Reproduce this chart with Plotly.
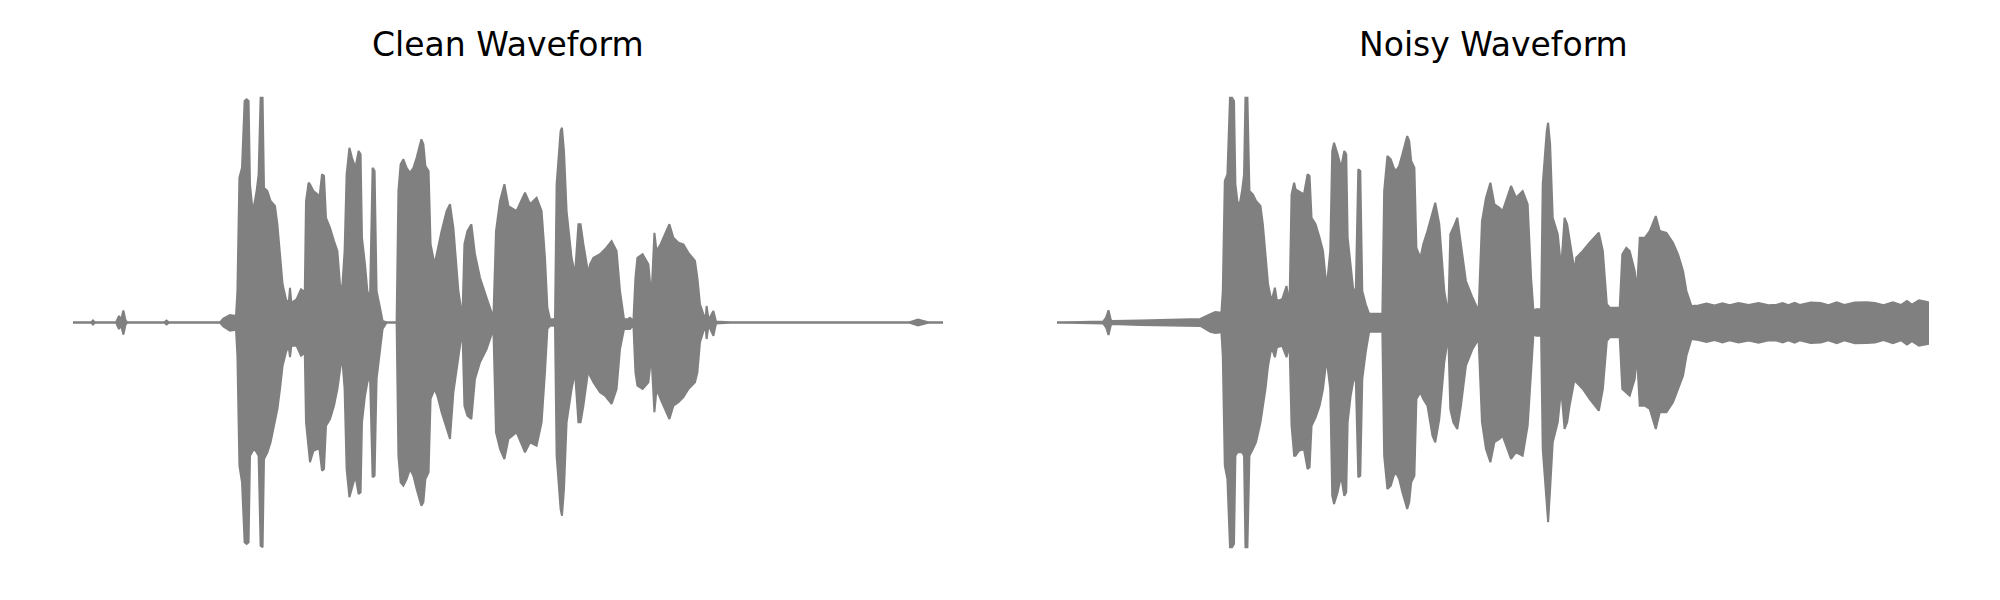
import plotly.graph_objects as go

# ---------------- Clean waveform envelope (time s, upper / lower amplitude) ----------------
clean_t = [0.000, 0.090, 0.100, 0.110, 0.215, 0.230, 0.240, 0.252, 0.262, 0.272, 0.455, 0.468, 0.480,
           0.735, 0.752, 0.785, 0.815, 0.822, 0.832, 0.845, 0.858, 0.868, 0.878, 0.885, 0.895, 0.905,
           0.918, 0.928, 0.938, 0.948, 0.955, 0.972, 0.988, 1.010, 1.022, 1.035, 1.048, 1.065, 1.078,
           1.085, 1.092, 1.118, 1.140, 1.152, 1.158, 1.165, 1.178, 1.185, 1.202, 1.222, 1.232, 1.245,
           1.255, 1.265, 1.285, 1.305, 1.322, 1.335, 1.345, 1.358, 1.368, 1.382, 1.395, 1.412, 1.428,
           1.438, 1.445, 1.460, 1.472, 1.485, 1.498, 1.508, 1.518, 1.535, 1.548, 1.568, 1.618, 1.627,
           1.638, 1.652, 1.668, 1.685, 1.702, 1.718, 1.742, 1.752, 1.762, 1.778, 1.788, 1.808, 1.822,
           1.843, 1.868, 1.885, 1.902, 1.927, 1.947, 1.957, 1.972, 1.992, 2.010, 2.035, 2.068, 2.102,
           2.115, 2.135, 2.157, 2.177, 2.218, 2.260, 2.285, 2.318, 2.343, 2.360, 2.372, 2.385, 2.410,
           2.418, 2.438, 2.445, 2.455, 2.468, 2.493, 2.510, 2.527, 2.538, 2.552, 2.577, 2.585, 2.602,
           2.635, 2.660, 2.693, 2.718, 2.735, 2.755, 2.772, 2.785, 2.802, 2.812, 2.822, 2.848, 2.877,
           2.892, 2.907, 2.918, 2.938, 2.960, 2.982, 3.002, 3.027, 3.052, 3.077, 3.110, 3.122, 3.135,
           3.152, 3.162, 3.168, 3.178, 3.202, 3.215, 3.300, 4.180, 4.225, 4.280, 4.350]
clean_top = [0.000, 0.000, 0.008, 0.000, 0.000, 0.026, 0.010, 0.048, 0.010, 0.000, 0.000, 0.008, 0.000,
             0.000, 0.016, 0.030, 0.026, 0.126, 0.579, 0.619, 0.886, 0.893, 0.886, 0.553, 0.473, 0.466,
             0.526, 0.593, 0.899, 0.899, 0.539, 0.526, 0.486, 0.466, 0.393, 0.259, 0.153, 0.093, 0.073,
             0.139, 0.079, 0.093, 0.133, 0.126, 0.073, 0.486, 0.559, 0.553, 0.526, 0.513, 0.499, 0.593,
             0.586, 0.419, 0.379, 0.326, 0.286, 0.153, 0.126, 0.286, 0.593, 0.699, 0.659, 0.619, 0.686,
             0.673, 0.339, 0.233, 0.126, 0.099, 0.619, 0.606, 0.126, 0.059, 0.006, 0.000, 0.000, 0.526,
             0.633, 0.653, 0.619, 0.599, 0.619, 0.659, 0.733, 0.713, 0.626, 0.606, 0.313, 0.233, 0.286,
             0.366, 0.446, 0.473, 0.379, 0.126, 0.019, 0.313, 0.366, 0.393, 0.273, 0.179, 0.099, 0.019,
             0.366, 0.486, 0.553, 0.466, 0.446, 0.519, 0.473, 0.499, 0.446, 0.259, 0.059, 0.013, 0.013,
             0.553, 0.766, 0.779, 0.686, 0.446, 0.259, 0.193, 0.393, 0.393, 0.313, 0.193, 0.233, 0.259,
             0.273, 0.293, 0.326, 0.286, 0.126, 0.013, 0.013, 0.019, 0.006, 0.179, 0.259, 0.273, 0.233,
             0.099, 0.359, 0.286, 0.313, 0.353, 0.393, 0.339, 0.319, 0.313, 0.279, 0.246, 0.179, 0.073,
             0.033, 0.010, 0.066, 0.010, 0.046, 0.004, 0.000, 0.000, 0.012, 0.000, 0.000]
clean_bot = [0.000, 0.000, -0.008, 0.000, 0.000, -0.026, -0.010, -0.048, -0.010, 0.000, 0.000, -0.008, 0.000,
             0.000, -0.016, -0.033, -0.029, -0.133, -0.573, -0.639, -0.879, -0.886, -0.879, -0.533, -0.519, -0.506,
             -0.519, -0.533, -0.893, -0.899, -0.546, -0.519, -0.479, -0.399, -0.346, -0.266, -0.173, -0.119, -0.093,
             -0.139, -0.093, -0.093, -0.133, -0.126, -0.079, -0.399, -0.519, -0.559, -0.513, -0.506, -0.506, -0.593,
             -0.586, -0.413, -0.386, -0.333, -0.266, -0.186, -0.133, -0.266, -0.586, -0.699, -0.666, -0.613, -0.686,
             -0.679, -0.399, -0.293, -0.239, -0.213, -0.619, -0.613, -0.226, -0.106, -0.026, 0.000, 0.000, -0.533,
             -0.639, -0.653, -0.626, -0.586, -0.613, -0.666, -0.733, -0.719, -0.626, -0.599, -0.306, -0.266, -0.293,
             -0.359, -0.426, -0.466, -0.279, -0.133, -0.026, -0.333, -0.373, -0.386, -0.226, -0.159, -0.106, -0.026,
             -0.439, -0.506, -0.546, -0.466, -0.439, -0.519, -0.479, -0.493, -0.399, -0.199, -0.026, -0.013, -0.013,
             -0.533, -0.746, -0.773, -0.666, -0.399, -0.266, -0.199, -0.399, -0.399, -0.333, -0.186, -0.213, -0.239,
             -0.279, -0.293, -0.326, -0.266, -0.106, -0.026, -0.026, -0.026, -0.010, -0.199, -0.253, -0.266, -0.239,
             -0.133, -0.359, -0.266, -0.306, -0.346, -0.386, -0.333, -0.319, -0.299, -0.266, -0.239, -0.199, -0.079,
             -0.039, -0.010, -0.066, -0.010, -0.053, -0.004, 0.000, 0.000, -0.012, 0.000, 0.000]

# ---------------- Noisy waveform envelope ----------------
noisy_t = [0.000, 0.230, 0.245, 0.257, 0.268, 0.273, 0.415, 0.582, 0.715, 0.765, 0.790, 0.820, 0.827,
           0.837, 0.850, 0.863, 0.873, 0.883, 0.890, 0.900, 0.910, 0.923, 0.933, 0.940, 0.950, 0.960,
           0.977, 0.993, 1.015, 1.027, 1.040, 1.053, 1.070, 1.087, 1.097, 1.123, 1.145, 1.160, 1.170,
           1.183, 1.190, 1.207, 1.232, 1.250, 1.260, 1.270, 1.290, 1.310, 1.327, 1.345, 1.363, 1.373,
           1.382, 1.400, 1.417, 1.433, 1.443, 1.450, 1.465, 1.477, 1.490, 1.503, 1.513, 1.523, 1.540,
           1.557, 1.590, 1.623, 1.632, 1.648, 1.665, 1.680, 1.690, 1.707, 1.723, 1.747, 1.757, 1.767,
           1.783, 1.793, 1.813, 1.827, 1.848, 1.873, 1.887, 1.907, 1.932, 1.952, 1.962, 1.977, 1.997,
           2.015, 2.040, 2.073, 2.103, 2.120, 2.140, 2.162, 2.182, 2.207, 2.223, 2.265, 2.290, 2.323,
           2.348, 2.365, 2.377, 2.390, 2.415, 2.423, 2.443, 2.450, 2.460, 2.473, 2.498, 2.515, 2.532,
           2.545, 2.557, 2.582, 2.590, 2.623, 2.657, 2.703, 2.723, 2.743, 2.757, 2.807, 2.820, 2.840,
           2.857, 2.882, 2.893, 2.907, 2.932, 2.957, 2.987, 3.007, 3.040, 3.073, 3.098, 3.123, 3.140,
           3.165, 3.200, 3.240, 3.280, 3.320, 3.355, 3.400, 3.450, 3.500, 3.550, 3.590, 3.620, 3.648,
           3.680, 3.705, 3.760, 3.810, 3.848, 3.890, 3.927, 3.980, 4.040, 4.080, 4.123, 4.170, 4.210,
           4.240, 4.265, 4.300, 4.330, 4.350]
noisy_top = [0.000, 0.004, 0.020, 0.049, 0.012, 0.006, 0.008, 0.012, 0.014, 0.033, 0.042, 0.039, 0.126,
             0.566, 0.593, 0.899, 0.899, 0.886, 0.553, 0.486, 0.466, 0.526, 0.593, 0.899, 0.899, 0.526,
             0.513, 0.486, 0.466, 0.393, 0.273, 0.153, 0.086, 0.139, 0.086, 0.093, 0.146, 0.073, 0.513,
             0.559, 0.533, 0.526, 0.513, 0.593, 0.586, 0.419, 0.393, 0.339, 0.286, 0.139, 0.286, 0.686,
             0.719, 0.673, 0.619, 0.686, 0.673, 0.339, 0.233, 0.139, 0.113, 0.613, 0.606, 0.126, 0.073,
             0.035, 0.035, 0.035, 0.526, 0.666, 0.653, 0.619, 0.606, 0.626, 0.673, 0.746, 0.726, 0.646,
             0.619, 0.299, 0.259, 0.313, 0.366, 0.446, 0.479, 0.393, 0.126, 0.033, 0.353, 0.379, 0.419,
             0.313, 0.166, 0.099, 0.046, 0.406, 0.499, 0.559, 0.473, 0.459, 0.446, 0.546, 0.499, 0.526,
             0.473, 0.179, 0.046, 0.053, 0.053, 0.553, 0.766, 0.799, 0.713, 0.419, 0.353, 0.219, 0.419,
             0.393, 0.326, 0.206, 0.259, 0.286, 0.319, 0.359, 0.286, 0.073, 0.059, 0.059, 0.273, 0.299,
             0.286, 0.206, 0.126, 0.339, 0.339, 0.366, 0.426, 0.366, 0.359, 0.319, 0.273, 0.206, 0.126,
             0.066, 0.068, 0.076, 0.068, 0.077, 0.069, 0.078, 0.070, 0.078, 0.069, 0.071, 0.078, 0.069,
             0.079, 0.070, 0.080, 0.078, 0.069, 0.081, 0.070, 0.080, 0.081, 0.078, 0.069, 0.081, 0.070,
             0.086, 0.072, 0.089, 0.084, 0.080]
noisy_bot = [0.000, -0.004, -0.020, -0.050, -0.012, -0.006, -0.010, -0.013, -0.014, -0.037, -0.042, -0.039, -0.133,
             -0.573, -0.626, -0.899, -0.899, -0.886, -0.533, -0.519, -0.519, -0.519, -0.533, -0.899, -0.899, -0.533,
             -0.506, -0.479, -0.399, -0.333, -0.266, -0.173, -0.099, -0.139, -0.099, -0.093, -0.139, -0.086, -0.413,
             -0.533, -0.533, -0.513, -0.506, -0.586, -0.579, -0.413, -0.379, -0.333, -0.266, -0.146, -0.266, -0.693,
             -0.726, -0.679, -0.613, -0.693, -0.679, -0.399, -0.293, -0.239, -0.213, -0.619, -0.613, -0.226, -0.119,
             -0.037, -0.037, -0.037, -0.533, -0.666, -0.653, -0.613, -0.599, -0.626, -0.679, -0.746, -0.719, -0.639,
             -0.613, -0.306, -0.279, -0.306, -0.333, -0.453, -0.479, -0.386, -0.159, -0.053, -0.346, -0.399, -0.426,
             -0.333, -0.173, -0.106, -0.066, -0.399, -0.506, -0.559, -0.479, -0.466, -0.453, -0.546, -0.519, -0.533,
             -0.413, -0.173, -0.046, -0.053, -0.053, -0.506, -0.746, -0.799, -0.666, -0.479, -0.399, -0.266, -0.426,
             -0.399, -0.333, -0.226, -0.239, -0.266, -0.306, -0.353, -0.266, -0.073, -0.059, -0.059, -0.266, -0.279,
             -0.293, -0.226, -0.133, -0.333, -0.333, -0.346, -0.426, -0.359, -0.359, -0.319, -0.266, -0.213, -0.133,
             -0.066, -0.070, -0.078, -0.070, -0.080, -0.071, -0.080, -0.072, -0.081, -0.071, -0.072, -0.080, -0.071,
             -0.081, -0.071, -0.082, -0.080, -0.071, -0.083, -0.071, -0.083, -0.082, -0.080, -0.070, -0.083, -0.071,
             -0.088, -0.075, -0.093, -0.088, -0.085]

titles = ["Clean Waveform", "Noisy Waveform"]
WAVE_COLOR = "#808080"

fig = go.Figure()
panels = [(clean_t, clean_top, clean_bot, "x", "y"),
          (noisy_t, noisy_top, noisy_bot, "x2", "y2")]
for t, top, bot, xa, ya in panels:
    fig.add_trace(go.Scatter(x=t, y=bot, mode="lines", xaxis=xa, yaxis=ya,
                             line=dict(color=WAVE_COLOR, width=2), hoverinfo="skip",
                             showlegend=False))
    fig.add_trace(go.Scatter(x=t, y=top, mode="lines", xaxis=xa, yaxis=ya, fill="tonexty",
                             fillcolor=WAVE_COLOR, line=dict(color=WAVE_COLOR, width=2),
                             hoverinfo="skip", showlegend=False))

axis_common = dict(visible=False, showgrid=False, zeroline=False, fixedrange=True)
fig.update_layout(
    width=2000, height=600,
    margin=dict(l=0, r=0, t=0, b=0),
    paper_bgcolor="white", plot_bgcolor="white",
    xaxis=dict(domain=[0.0325, 0.4675], range=[0, 4.35], anchor="y", **axis_common),
    xaxis2=dict(domain=[0.5245, 0.9605], range=[0, 4.35], anchor="y2", **axis_common),
    yaxis=dict(domain=[0, 1], range=[-1.142, 1.258], anchor="x", **axis_common),
    yaxis2=dict(domain=[0, 1], range=[-1.142, 1.258], anchor="x2", **axis_common),
    annotations=[
        dict(text=titles[0], x=0.250, y=1 - 37 / 600, xref="paper", yref="paper",
             xanchor="center", yanchor="middle", showarrow=False,
             font=dict(family="DejaVu Sans", size=33, color="black")),
        dict(text=titles[1], x=0.7425, y=1 - 37 / 600, xref="paper", yref="paper",
             xanchor="center", yanchor="middle", showarrow=False,
             font=dict(family="DejaVu Sans", size=33, color="black")),
    ],
)

fig.write_html("out.html")
